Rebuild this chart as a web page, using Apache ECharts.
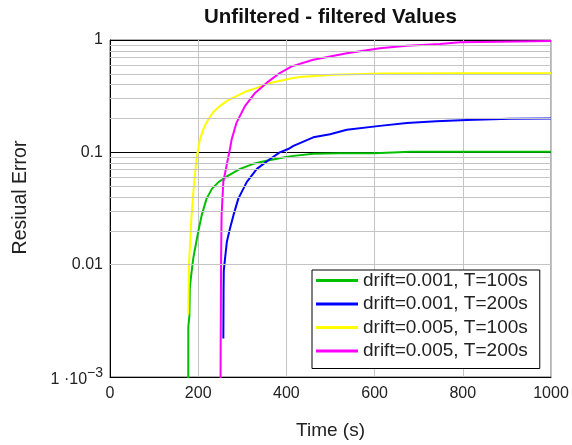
<!DOCTYPE html>
<html>
<head>
<meta charset="utf-8">
<script src="https://cdn.jsdelivr.net/npm/echarts@6/dist/echarts.min.js"></script>
<style>
	html, body { margin: 0; padding: 0; background: #fff; }
	#chart { width: 572px; height: 445px; }
</style>
</head>
<body>
<div id="chart"></div>
<script>
// values (time in s, residual error)
const greenT   = [177.4, 177.6, 180, 181, 184, 187, 189, 193, 200, 208, 219, 231, 246, 268, 295, 325, 355, 393, 416, 461, 522, 600, 681, 800, 1000];
const greenV   = [0.0005, 0.0028, 0.0035, 0.0062, 0.008, 0.01, 0.0115, 0.014, 0.0196, 0.0276, 0.0387, 0.0473, 0.0543, 0.062, 0.0713, 0.079, 0.084, 0.090, 0.093, 0.097, 0.098, 0.098, 0.101, 0.101, 0.101];
const blueT    = [257, 257.5, 258, 261, 265, 272, 280, 291, 310, 333, 363, 385, 404, 416, 461, 499, 537, 612, 673, 740, 809, 907, 1000];
const blueV    = [0.0022, 0.0058, 0.0088, 0.0115, 0.016, 0.021, 0.0276, 0.0387, 0.0543, 0.0713, 0.0873, 0.1, 0.107, 0.114, 0.136, 0.145, 0.159, 0.172, 0.182, 0.189, 0.194, 0.199, 0.2];
const yellowT  = [177.6, 179, 185, 191, 196.6, 200, 204, 213, 223, 235, 249, 267, 287, 310, 333, 363, 415, 431, 506, 619, 800, 1000];
const yellowV  = [0.0036, 0.01, 0.0276, 0.055, 0.09, 0.107, 0.131, 0.165, 0.197, 0.23, 0.258, 0.29, 0.316, 0.35, 0.375, 0.415, 0.459, 0.469, 0.491, 0.503, 0.505, 0.505];
const magentaT = [250.5, 251, 252, 253, 257, 264, 268, 272, 276, 287, 306, 329, 355, 385, 412, 461, 537, 612, 673, 748, 794, 884, 1000];
const magentaV = [0.0005, 0.002, 0.0114, 0.0276, 0.0547, 0.075, 0.09, 0.107, 0.131, 0.184, 0.258, 0.338, 0.415, 0.508, 0.582, 0.666, 0.763, 0.845, 0.891, 0.922, 0.954, 0.966, 0.98];

const seriesNames  = ['drift=0.001, T=100s', 'drift=0.001, T=200s', 'drift=0.005, T=100s', 'drift=0.005, T=200s'];
const seriesColors = ['#00c000', '#0000ff', '#ffff00', '#ff00ff'];

// axis ticks
const xTicks = [0, 200, 400, 600, 800, 1000];
const yTickExp  = [-3, -2, -1, 0];
const yTickText = ['{b|1 ·10}{s|−3}', '0.01', '0.1', '1'];
const minorGridVals = [0.002, 0.003, 0.004, 0.005, 0.006, 0.007, 0.008, 0.009,
                       0.02, 0.03, 0.04, 0.05, 0.06, 0.07, 0.08, 0.09,
                       0.2, 0.3, 0.4, 0.5, 0.6, 0.7, 0.8, 0.9];

function pairs(t, v) {
	let out = []
	for (let i = 0; i < t.length; i++) {
		out.push([t[i], v[i]])
	}
	return out
}

const allData = [pairs(greenT, greenV), pairs(blueT, blueV), pairs(yellowT, yellowV), pairs(magentaT, magentaV)];
const fontName = '"Liberation Sans", Arial, sans-serif';

let myChart = echarts.init(document.getElementById('chart'))

let series = [
	{
		// minor log grid lines
		name: 'minorGrid',
		type: 'line',
		data: [],
		z: 1,
		silent: true,
		markLine: {
			silent: true,
			symbol: ['none', 'none'],
			animation: false,
			label: { show: false },
			lineStyle: { color: '#c4c4c4', width: 1, type: 'solid' },
			data: minorGridVals.map(v => ({ yAxis: v }))
		}
	}
]
for (let i = 0; i < allData.length; i++) {
	series.push({
		name: seriesNames[i],
		type: 'line',
		data: allData[i],
		showSymbol: false,
		symbol: 'none',
		clip: true,
		z: 3,
		color: seriesColors[i],
		lineStyle: { color: seriesColors[i], width: 2 }
	})
}

let option = {
	animation: false,
	backgroundColor: '#fff',
	title: {
		text: 'Unfiltered - filtered Values',
		left: 199,
		top: 2,
		textStyle: { fontFamily: fontName, fontSize: 20.5, fontWeight: 'bold', color: '#111' }
	},
	legend: {
		data: seriesNames,
		orient: 'vertical',
		left: 312,
		top: 270,
		padding: [1, 12, 8, 4],
		itemGap: 4.5,
		itemWidth: 42,
		itemHeight: 3,
		icon: 'rect',
		backgroundColor: '#fff',
		borderColor: '#000',
		borderWidth: 1,
		borderRadius: 0,
		textStyle: { fontFamily: fontName, fontSize: 19, color: '#222' }
	},
	grid: {
		left: 110,
		right: 21,
		top: 40,
		bottom: 67,
		show: true,
		borderColor: '#666',
		borderWidth: 1,
		containLabel: false
	},
	xAxis: {
		type: 'value',
		min: xTicks[0],
		max: xTicks[xTicks.length - 1],
		interval: 200,
		name: 'Time (s)',
		nameLocation: 'middle',
		nameGap: 44,
		nameTextStyle: { fontFamily: fontName, fontSize: 19, color: '#222' },
		axisLine: { show: true, lineStyle: { color: '#000', width: 1 } },
		axisTick: { show: false },
		axisLabel: {
			margin: 9,
			fontFamily: fontName,
			fontSize: 16,
			color: '#222',
			formatter: function (value) {
				return String(value)
			}
		},
		splitLine: { show: true, lineStyle: { color: '#c4c4c4', width: 1 } }
	},
	yAxis: {
		type: 'log',
		logBase: 10,
		min: 0.001,
		max: 1,
		splitNumber: 3,
		name: 'Resiual Error',
		nameLocation: 'middle',
		nameRotate: 90,
		nameGap: 79,
		nameTextStyle: { fontFamily: fontName, fontSize: 19.5, color: '#222', padding: [0, 0, 0, 22] },
		axisLine: { show: true, lineStyle: { color: '#000', width: 1 } },
		axisTick: { show: false },
		axisLabel: {
			margin: 7,
			fontFamily: fontName,
			fontSize: 16,
			color: '#222',
			formatter: function (value) {
				let e = Math.round(Math.log10(value))
				let idx = yTickExp.indexOf(e)
				return idx >= 0 ? yTickText[idx] : ''
			},
			rich: {
				b: { fontFamily: fontName, fontSize: 16, color: '#222', padding: [6, 0, 0, 0] },
				s: { fontFamily: fontName, fontSize: 14, color: '#222', padding: [0, 0, 8, 0] }
			}
		},
		splitLine: { show: true, lineStyle: { color: '#000', width: 1 } }
	},
	series: series
}

myChart.setOption(option)
</script>
</body>
</html>
